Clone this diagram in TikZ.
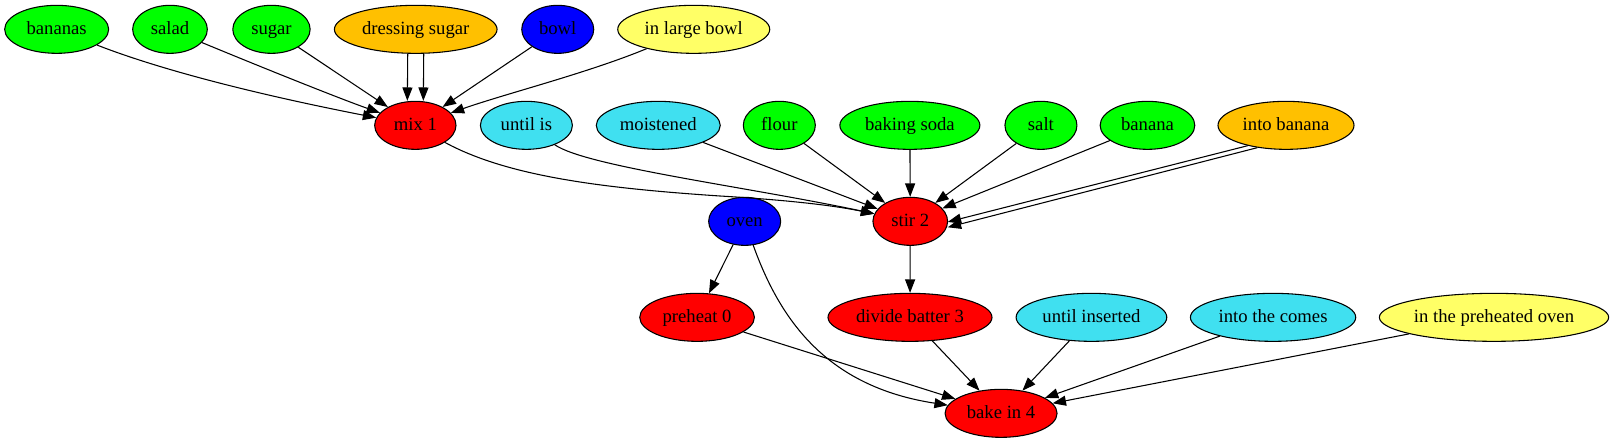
\documentclass[tikz,border=0pt]{standalone}
\usepackage{fontspec}
\setmainfont{Liberation Serif}
\usetikzlibrary{shapes.geometric,arrows.meta}
\definecolor{cgreen}{HTML}{00FF00}
\definecolor{cred}{HTML}{FF0000}
\definecolor{cblue}{HTML}{0000FF}
\definecolor{corange}{HTML}{FFC000}
\definecolor{ccyan}{HTML}{40E0F0}
\definecolor{cyellow}{HTML}{FFFF66}
\tikzset{
  nd/.style={ellipse, draw=black, line width=0.8pt, minimum height=36pt, inner sep=0pt,
    text height=10.5pt, text depth=2.5pt,
    font=\fontsize{14pt}{16pt}\selectfont},
  ngreen/.style={nd, fill=cgreen},
  nred/.style={nd, fill=cred},
  nblue/.style={nd, fill=cblue},
  norange/.style={nd, fill=corange},
  ncyan/.style={nd, fill=ccyan},
  nyellow/.style={nd, fill=cyellow},
  edg/.style={line width=0.8pt, -{Triangle[length=10pt,width=7.5pt]}},
}
\begin{document}
\begin{tikzpicture}[x=1pt,y=1pt]
\useasboundingbox (0,0) rectangle (1210.5,-332.25);
% row 1
\node[ngreen, minimum width=78pt]  (bananas)   at (42.5,-22)  {bananas};
\node[ngreen, minimum width=56pt]  (salad)     at (127.5,-22) {salad};
\node[ngreen, minimum width=58pt]  (sugar)     at (203.6,-22) {sugar};
\node[norange, minimum width=122pt] (dressing)  at (311.8,-22) {dressing sugar};
\node[nblue, minimum width=54pt]  (bowl)      at (418.3,-22) {bowl};
\node[nyellow, minimum width=114pt] (largebowl) at (520.3,-22) {in large bowl};
% row 2
\node[nred, minimum width=61pt]  (mix)        at (311.5,-94) {mix 1};
\node[ncyan, minimum width=69pt]  (untilis)    at (394.8,-94) {until is};
\node[ncyan, minimum width=93pt]  (moistened)  at (493.7,-94) {moistened};
\node[ngreen, minimum width=54pt]  (flour)      at (584.5,-94) {flour};
\node[ngreen, minimum width=105pt] (bakingsoda) at (682.4,-94) {baking soda};
\node[ngreen, minimum width=54pt]  (salt)       at (780.7,-94) {salt};
\node[ngreen, minimum width=71pt]  (banana)     at (860.6,-94) {banana};
\node[norange, minimum width=102pt] (intobanana) at (964.5,-94) {into banana};
% row 3
\node[nblue, minimum width=54pt]  (oven) at (558.5,-166) {oven};
\node[nred, minimum width=56pt]  (stir) at (682.7,-166) {stir 2};
% row 4
\node[nred, minimum width=86pt]  (preheat)   at (522.8,-238)  {preheat 0};
\node[nred, minimum width=123pt] (divide)    at (682.5,-238)  {divide batter 3};
\node[ncyan, minimum width=113pt] (untilins)  at (818.6,-238)  {until inserted};
\node[ncyan, minimum width=124pt] (intocomes) at (954.8,-238)  {into the comes};
\node[nyellow, minimum width=172pt] (preheated) at (1120.5,-238) {in the preheated oven};
% row 5
\node[nred, minimum width=84pt]  (bake) at (750.8,-310) {bake in 4};

% edges into mix 1
\draw[edg] (bananas) .. controls (140,-60) and (240,-80) .. (mix);
\draw[edg] (salad) .. controls (200,-52) and (255,-74) .. (mix);
\draw[edg] (sugar) -- (mix);
\draw[edg] ([xshift=-6pt]dressing.south) -- ([xshift=-6pt]mix.north);
\draw[edg] ([xshift=6pt]dressing.south) -- ([xshift=6pt]mix.north);
\draw[edg] (bowl) -- (mix);
\draw[edg] (largebowl) .. controls (440,-55) and (380,-70) .. (mix);
% edges into stir 2
\draw[edg] (mix.-30) .. controls (380,-132) and (450,-141) .. (540,-147)
                  .. controls (590,-150) and (625,-154) .. (stir);
\draw[edg] (untilis) .. controls (440,-125) and (560,-140) .. (stir);
\draw[edg] (moistened) -- (stir);
\draw[edg] (flour) -- (stir);
\draw[edg] (bakingsoda) -- (stir);
\draw[edg] (salt) -- (stir);
\draw[edg] (banana) -- (stir);
\draw[edg] (intobanana.208) -- ([yshift=2pt]stir.-5);
\draw[edg] (intobanana.218) -- ([yshift=-2pt]stir.-5);
% lower edges
\draw[edg] (oven) -- (preheat);
\draw[edg] (oven) .. controls (585,-240) and (620,-290) .. (bake);
\draw[edg] (stir) -- (divide);
\draw[edg] (preheat) -- (bake);
\draw[edg] (divide) -- (bake);
\draw[edg] (untilins) -- (bake);
\draw[edg] (intocomes) -- (bake);
\draw[edg] (preheated) -- (bake);
\end{tikzpicture}
\end{document}
